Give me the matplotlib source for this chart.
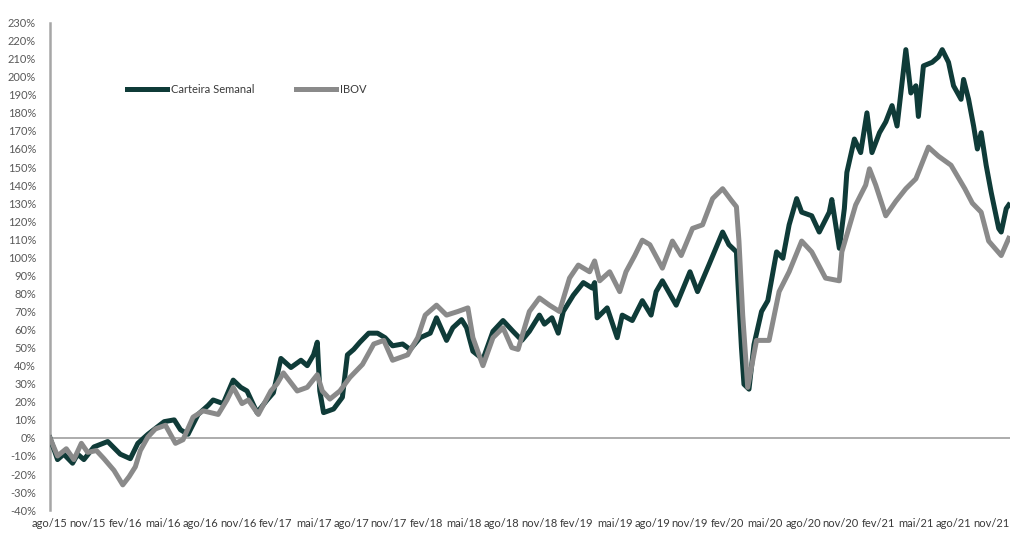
import matplotlib.pyplot as plt
import numpy as np

# Meses desde ago/15 e retorno acumulado (%)
meses_carteira = [0, 0.6, 1.1, 1.8, 2.2, 2.7, 3.5, 4.6, 5.6, 6.4, 7.0, 7.8, 9.1, 9.9, 10.4, 11.0,
                  11.8, 12.6, 13.0, 13.8, 14.6, 15.2, 15.7, 16.5, 17.3, 17.8, 18.4, 19.2, 20.0, 20.5,
                  21.0, 21.3, 21.5, 21.8, 22.6, 23.3, 23.7, 24.2, 24.7, 25.4, 26.1, 26.7, 27.3, 28.1,
                  28.7, 29.5, 30.3, 30.8, 31.6, 32.1, 32.8, 33.2, 33.7, 34.5, 35.3, 36.1, 36.9, 37.6,
                  38.2, 39.0, 39.4, 40.0, 40.5, 40.9, 41.7, 42.5, 43.2, 43.4, 43.6, 44.4, 45.2, 45.6,
                  46.4, 47.2, 47.9, 48.3, 48.8, 49.9, 51.0, 51.6, 52.5, 53.6, 54.1, 54.7, 54.8, 55.1,
                  55.3, 55.7, 56.1, 56.7, 57.2, 57.9, 58.4, 58.9, 59.5, 59.9, 60.7, 61.3, 62.1, 62.3,
                  62.9, 63.3, 63.5, 64.1, 64.6, 65.1, 65.5, 66.1, 66.6, 67.1, 67.5, 68.2, 68.6, 69.0,
                  69.2, 69.6, 70.3, 70.8, 71.1, 71.6, 72.0, 72.6, 72.8, 73.2, 73.6, 73.9, 74.2, 74.6,
                  75.0, 75.6, 75.8, 76.2, 76.4]
carteira = [0, -12, -9, -14, -9, -12, -5, -2, -9, -11.5, -3, 2, 9, 10, 4.5, 2,
            13, 18, 21, 19, 32, 28, 26, 14, 21, 25, 44, 39, 43, 40,
            46, 53, 26, 14, 16, 22.5, 46, 49, 53, 58, 58, 55.5, 51, 52,
            49, 55.5, 58, 66.5, 54, 61, 65.5, 61, 48, 43.5, 59, 65, 59, 54,
            59, 68, 63, 66.5, 58, 70, 79, 86, 83, 86, 66.5, 72, 55.5, 68,
            65, 76, 68, 81, 87, 73.5, 92, 81, 95.7, 114, 107, 103, 88.5, 50,
            29.7, 27, 51.7, 70, 76, 103, 99.5, 118, 132.5, 125, 123, 114, 125, 132,
            105, 127, 147, 165.5, 158, 180, 158, 169, 175, 184, 172.7, 215, 191, 195,
            178, 206, 208, 211, 215, 208, 195, 187.5, 198.5, 187.5, 172.7, 160, 169, 151,
            136, 116, 114, 127, 129]

meses_ibov = [0, 0.6, 1.3, 1.9, 2.5, 3.0, 3.7, 4.3, 5.1, 5.8, 6.3, 6.8, 7.2, 7.8, 8.4, 9.2,
              10.0, 10.6, 11.4, 12.2, 13.4, 14.1, 14.6, 15.3, 15.8, 16.6, 17.6, 18.1, 18.6, 19.7,
              20.5, 21.3, 21.7, 22.3, 23.1, 23.9, 24.9, 25.8, 26.6, 27.3, 28.5, 29.3, 29.9, 30.8,
              31.6, 32.5, 33.3, 33.7, 34.5, 35.3, 36.1, 36.8, 37.3, 38.2, 39.0, 39.8, 40.6, 41.4,
              42.1, 43.0, 43.4, 43.8, 44.6, 45.4, 45.9, 46.6, 47.2, 47.8, 48.8, 49.6, 50.3, 51.2,
              52.0, 52.8, 53.6, 54.3, 54.7, 54.9, 55.2, 55.6, 56.3, 57.3, 58.1, 58.9, 59.9, 60.7,
              61.8, 62.9, 63.1, 64.2, 65.0, 65.3, 65.8, 66.6, 67.4, 68.2, 69.0, 70.0, 70.8, 71.8,
              72.9, 73.5, 74.2, 74.8, 75.8, 76.4]
ibov = [0, -10, -6, -12, -3, -8, -7, -11.5, -18, -26, -21.5, -16, -7, 0.5, 5, 7,
        -3, -1, 11.5, 15, 13, 21, 28, 19, 21, 13, 26, 30, 36, 26,
        28, 35, 26, 21.5, 26, 33.5, 40.7, 52, 54, 43, 46, 55.5, 68, 73.5,
        68, 70, 72, 55.5, 40, 55.5, 61, 50, 49, 70, 77.5, 73.5, 70, 88.5,
        95.7, 92, 98, 87, 92, 81, 92, 101, 109.5, 107, 94, 109, 101, 116,
        118, 132.5, 138, 131.5, 128, 109, 68, 28, 54, 54, 81, 92, 109, 103,
        88.5, 87, 103, 129, 140, 149, 140, 123, 131, 138, 143.5, 161, 156, 151,
        138, 130, 125, 109, 101, 110.5]

rotulos_x = ['ago/15', 'nov/15', 'fev/16', 'mai/16', 'ago/16', 'nov/16', 'fev/17', 'mai/17',
             'ago/17', 'nov/17', 'fev/18', 'mai/18', 'ago/18', 'nov/18', 'fev/19', 'mai/19',
             'ago/19', 'nov/19', 'fev/20', 'mai/20', 'ago/20', 'nov/20', 'fev/21', 'mai/21',
             'ago/21', 'nov/21']

plt.rcParams['font.family'] = ['Lato', 'DejaVu Sans']

fig = plt.figure(figsize=(10.1, 5.37), dpi=100)
ax = fig.add_axes([0.0495, 0.05, 0.9505, 0.908])

ax.plot(meses_carteira, carteira, color='#0f3b38', lw=3.6, label='Carteira Semanal',
        solid_joinstyle='round', zorder=3)
ax.plot(meses_ibov, ibov, color='#8a8a8a', lw=3.6, label='IBOV',
        solid_joinstyle='round', zorder=4)

ax.axhline(0, color='#a6a6a6', lw=1.3, zorder=2)

ax.set_xlim(0, 76.5)
ax.set_ylim(-40, 230)
ax.set_yticks(np.arange(-40, 231, 10))
ax.set_yticklabels([f'{v}%' for v in range(-40, 231, 10)])
ax.set_xticks(np.arange(0, 3 * len(rotulos_x), 3))
ax.set_xticklabels(rotulos_x)
ax.tick_params(axis='y', length=0, labelsize=8, colors='#595959', pad=10)
ax.tick_params(axis='x', length=0, labelsize=8, colors='#3a3a3a', pad=6)

for s in ['top', 'right', 'bottom']:
    ax.spines[s].set_visible(False)
ax.spines['left'].set_color('#a6a6a6')
ax.spines['left'].set_linewidth(1.8)

ax.legend(loc='upper left', bbox_to_anchor=(0.07, 0.895), ncol=2, frameon=False,
          fontsize=8, handlelength=3.6, columnspacing=3.8, handletextpad=0.3,
          labelcolor='#3a3a3a')

fig.savefig('out.png', dpi=100)
